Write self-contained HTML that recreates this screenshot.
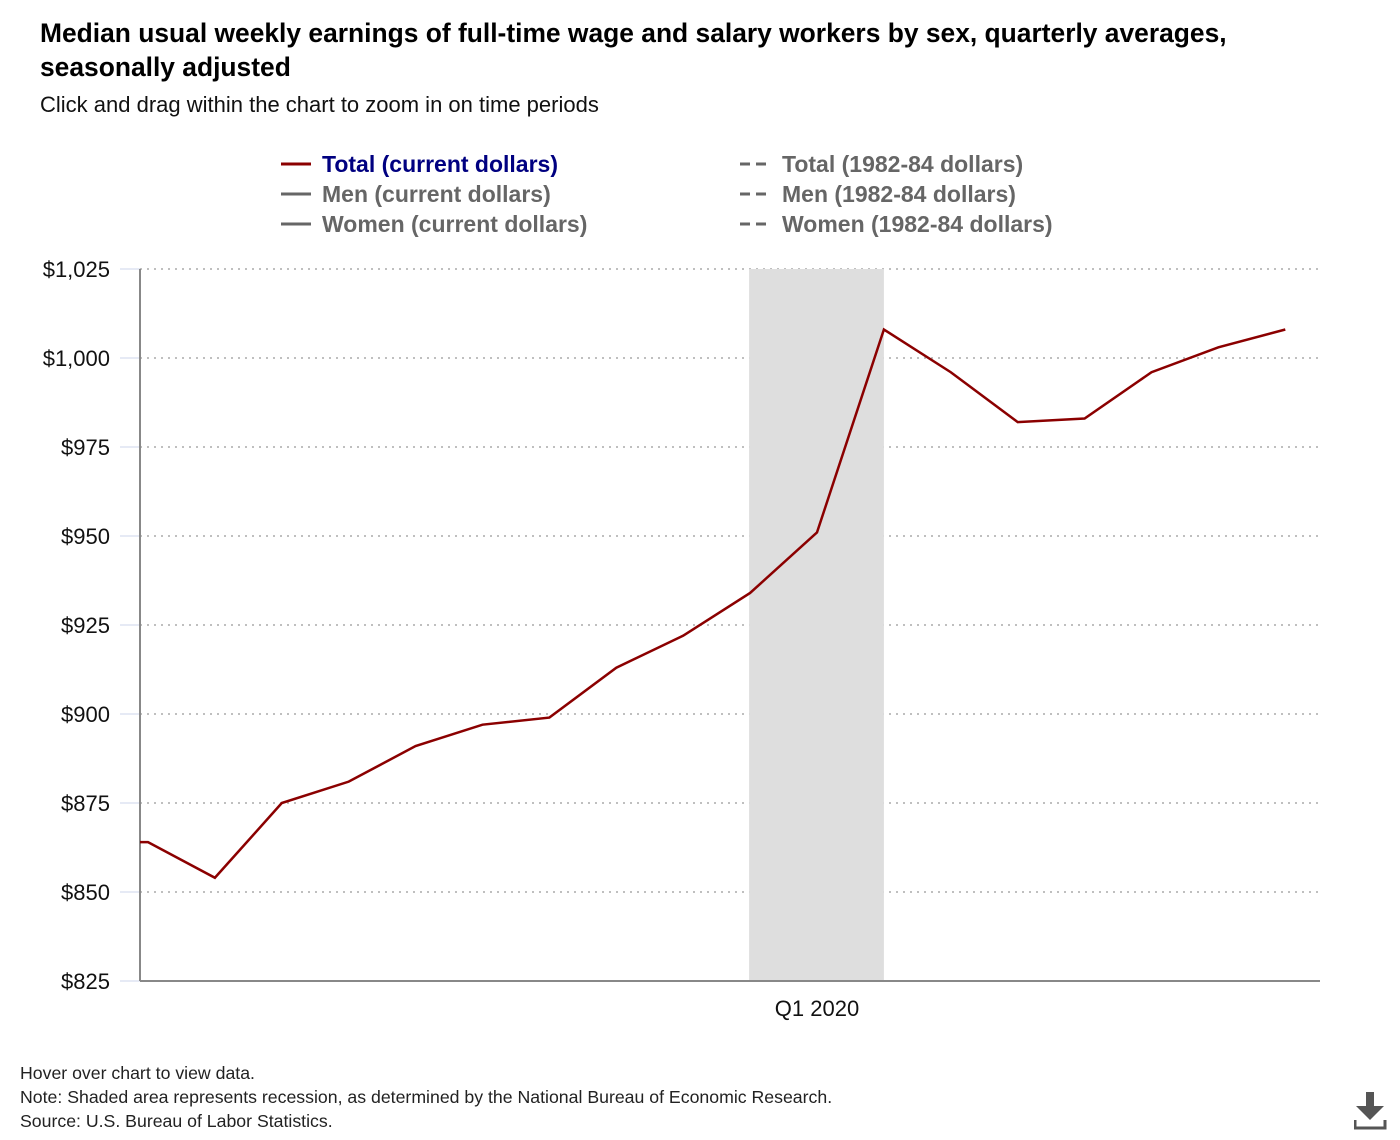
<!DOCTYPE html>
<html><head><meta charset="utf-8"><style>
body{margin:0;background:#fff;font-family:"Liberation Sans",sans-serif;}
.t{position:absolute;left:40px;top:16px;font-size:26.4px;font-weight:bold;color:#000;line-height:34px;width:1320px;}
.s{position:absolute;left:40px;top:92px;font-size:22px;color:#111;}
.f{position:absolute;left:20px;font-size:17.7px;color:#222;}
</style></head><body>
<div class="t">Median usual weekly earnings of full-time wage and salary workers by sex, quarterly averages, seasonally adjusted</div>
<div class="s">Click and drag within the chart to zoom in on time periods</div>
<svg id="c" width="1400" height="1140" style="position:absolute;left:0;top:0">
<g font-size="23" font-weight="bold">
<line x1="281" x2="311" y1="164" y2="164" stroke="#8b0000" stroke-width="3"/>
<text x="322" y="172" fill="#000080">Total (current dollars)</text>
<line x1="281" x2="311" y1="194" y2="194" stroke="#666" stroke-width="3"/>
<text x="322" y="202" fill="#666">Men (current dollars)</text>
<line x1="281" x2="311" y1="224" y2="224" stroke="#666" stroke-width="3"/>
<text x="322" y="232" fill="#666">Women (current dollars)</text>
<line x1="740" x2="772" y1="164" y2="164" stroke="#666" stroke-width="3" stroke-dasharray="10,6"/>
<text x="782" y="172" fill="#666">Total (1982-84 dollars)</text>
<line x1="740" x2="772" y1="194" y2="194" stroke="#666" stroke-width="3" stroke-dasharray="10,6"/>
<text x="782" y="202" fill="#666">Men (1982-84 dollars)</text>
<line x1="740" x2="772" y1="224" y2="224" stroke="#666" stroke-width="3" stroke-dasharray="10,6"/>
<text x="782" y="232" fill="#666">Women (1982-84 dollars)</text>
</g>
<defs><clipPath id="cp"><rect x="140" y="260" width="1180" height="730"/></clipPath></defs>
<g id="grid"></g>
<g id="rec"></g>
<g id="axes"></g>
<g id="series" clip-path="url(#cp)"></g>
</svg>
<div class="f" style="top:1063px">Hover over chart to view data.</div>
<div class="f" style="top:1087px">Note: Shaded area represents recession, as determined by the National Bureau of Economic Research.</div>
<div class="f" style="top:1111px">Source: U.S. Bureau of Labor Statistics.</div>
<svg width="40" height="40" style="position:absolute;left:1354px;top:1092px">
<rect x="12" y="0" width="8" height="14" fill="#555"/><polygon points="2,14 30,14 16,28" fill="#555"/>
<path d="M1 28 V36 H31 V28" fill="none" stroke="#555" stroke-width="3"/></svg>
<script>
const quarters=["Q2 2017","Q3 2017","Q4 2017","Q1 2018","Q2 2018","Q3 2018","Q4 2018","Q1 2019","Q2 2019","Q3 2019","Q4 2019","Q1 2020","Q2 2020","Q3 2020","Q4 2020","Q1 2021","Q2 2021","Q3 2021","Q4 2021"];
const totalCurrent=[864,864,854,875,881,891,897,899,913,922,934,951,1008,996,982,983,996,1003,1008];
const yTicks=[825,850,875,900,925,950,975,1000,1025];
const yTickLabels=["$825","$850","$875","$900","$925","$950","$975","$1,000","$1,025"];
const xTickLabels=["Q1 2020"];
const recession=["Q4 2019","Q2 2020"];
const NS="http://www.w3.org/2000/svg";
const X0=140,X1=1320,Y0=981,Y1=269;
function xs(q){return 81.1+66.9*quarters.indexOf(q);}
function ys(v){return Y0-(v-825)/(1025-825)*(Y0-Y1);}
function mk(t,a,p){const e=document.createElementNS(NS,t);for(const k in a)e.setAttribute(k,a[k]);p.appendChild(e);return e;}
const grid=document.getElementById('grid'),axes=document.getElementById('axes');
yTicks.forEach((v,i)=>{
 if(i>0){const l=mk('line',{x1:X0,x2:X1,y1:ys(v),y2:ys(v),stroke:'#aaa','stroke-dasharray':'2,5','stroke-width':1.5},grid);
 
 }
 const tk=mk('line',{x1:120,x2:X0,y1:ys(v),y2:ys(v),stroke:'#ccd6eb'},axes);
 
 
 const t=mk('text',{x:110,y:ys(v)+8,'text-anchor':'end','font-size':22,fill:'#111'},axes);
 t.textContent=yTickLabels[i];
 
 
});
const r=mk('rect',{x:xs(recession[0])-1,y:Y1,width:xs(recession[1])-xs(recession[0])+1,height:Y0-Y1,fill:'#dedede'},document.getElementById('rec'));


const ya=mk('line',{x1:X0,x2:X0,y1:Y1,y2:Y0,stroke:'#888','stroke-width':2},axes);


const xa=mk('line',{x1:X0,x2:X1,y1:Y0,y2:Y0,stroke:'#888','stroke-width':2},axes);


xTickLabels.forEach(q=>{const t=mk('text',{x:xs(q),y:1016,'text-anchor':'middle','font-size':22,fill:'#111'},axes);
 t.textContent=q;
 
 });
const p=mk('polyline',{points:quarters.map((q,i)=>xs(q)+','+ys(totalCurrent[i])).join(' '),fill:'none',stroke:'#8b0000','stroke-width':2.5},document.getElementById('series'));


</script>
</body></html>
